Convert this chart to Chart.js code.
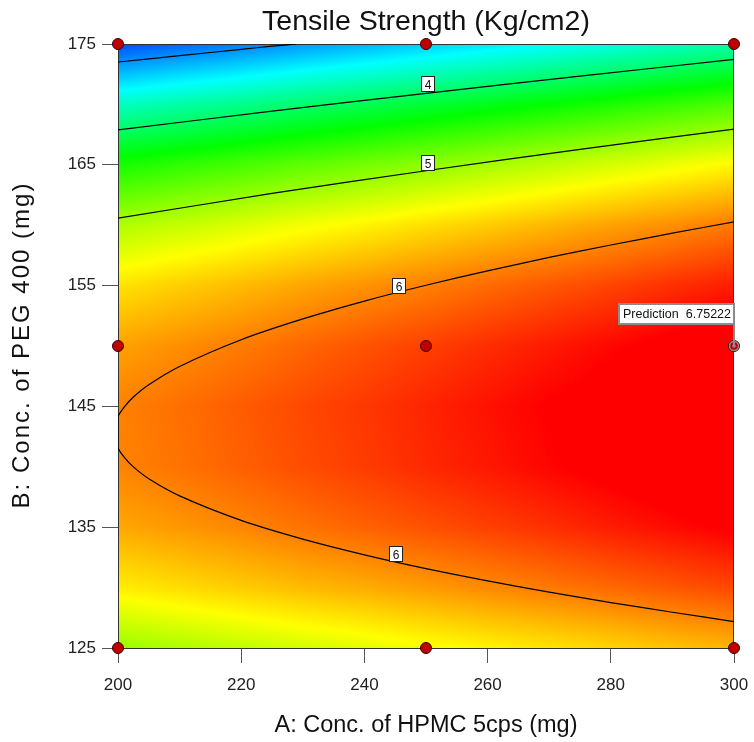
<!DOCTYPE html>
<html>
<head>
<meta charset="utf-8">
<script src="https://cdn.jsdelivr.net/npm/chart.js@4.4.1/dist/chart.umd.min.js"></script>
<style>
  html, body { margin: 0; padding: 0; background: #ffffff; }
  #wrap { width: 754px; height: 742px; }
</style>
</head>
<body>
<div id="wrap"><canvas id="chart" width="754" height="742"></canvas></div>
<script>
// ---------- data ----------
const chartTitle = 'Tensile Strength (Kg/cm2)';
const xTitle = 'A: Conc. of HPMC 5cps (mg)';
const yTitle = 'B: Conc. of PEG 400 (mg)';

const xTicks = [200, 220, 240, 260, 280, 300];
const yTicks = [125, 135, 145, 155, 165, 175];

// response surface grid: A (columns) x B (rows)
const gridA = [200, 210, 220, 230, 240, 250, 260, 270, 280, 290, 300];
const gridB = [125, 130, 135, 140, 145, 150, 155, 160, 165, 170, 175];
const gridZ = [
  [4.98, 5.06, 5.14, 5.22, 5.29, 5.37, 5.45, 5.52, 5.60, 5.68, 5.75],
  [5.48, 5.56, 5.64, 5.72, 5.79, 5.87, 5.95, 6.03, 6.11, 6.19, 6.27],
  [5.81, 5.89, 5.97, 6.06, 6.14, 6.22, 6.30, 6.38, 6.47, 6.55, 6.63],
  [5.98, 6.06, 6.15, 6.24, 6.32, 6.41, 6.49, 6.58, 6.66, 6.75, 6.83],
  [5.99, 6.08, 6.17, 6.26, 6.34, 6.43, 6.52, 6.61, 6.69, 6.78, 6.87],
  [5.84, 5.93, 6.02, 6.12, 6.21, 6.30, 6.39, 6.48, 6.57, 6.66, 6.75],
  [5.53, 5.63, 5.72, 5.82, 5.91, 6.00, 6.10, 6.19, 6.28, 6.38, 6.47],
  [5.07, 5.16, 5.26, 5.36, 5.45, 5.55, 5.64, 5.74, 5.84, 5.93, 6.03],
  [4.44, 4.54, 4.64, 4.74, 4.83, 4.93, 5.03, 5.13, 5.23, 5.33, 5.43],
  [3.65, 3.75, 3.85, 3.96, 4.06, 4.16, 4.26, 4.36, 4.46, 4.57, 4.67],
  [2.70, 2.81, 2.91, 3.02, 3.12, 3.22, 3.33, 3.43, 3.54, 3.64, 3.75]
];

// colour scale: response value -> colour
const colorLevels = [2.4, 3.43, 4.35, 5.4, 6.6];
const colorRGB = [[0, 0, 255], [0, 255, 255], [0, 255, 0], [255, 255, 0], [255, 0, 0]];

// design points
const designA = [200, 250, 300, 200, 250, 300, 200, 250, 300];
const designB = [125, 125, 125, 150, 150, 150, 175, 175, 175];

// contour lines
const contour3A = [200, 210, 220, 225, 229];
const contour3B = [173.51, 174.03, 174.56, 174.82, 175.0];
const contour4A = [200, 225, 250, 275, 300];
const contour4B = [167.89, 169.44, 170.91, 172.34, 173.72];
const contour5A = [200, 225, 250, 275, 300];
const contour5B = [160.58, 162.63, 164.51, 166.28, 167.95];
const contour6A = [300, 290, 280, 270, 260, 250, 240, 230, 220, 210, 205, 202.5, 201, 200,
                   200, 201, 202.5, 205, 210, 220, 230, 240, 250, 260, 270, 280, 290, 300];
const contour6B = [160.28, 159.34, 158.36, 157.33, 156.22, 155.03, 153.72, 152.24, 150.52, 148.31, 146.80, 145.78, 144.94, 144.11,
                   141.61, 140.80, 139.99, 139.01, 137.59, 135.56, 134.01, 132.71, 131.57, 130.55, 129.62, 128.76, 127.96, 127.19];

// contour labels
const contourLabelText = ['4', '5', '6', '6'];
const contourLabelA = [250.2, 250.2, 245.5, 245.0];
const contourLabelB = [171.69, 165.23, 155.01, 132.86];

// prediction flag
const predictionA = 300;
const predictionB = 150;
const predictionLabel = 'Prediction';
const predictionValue = '6.75222';

// ---------- helpers ----------
const FONT = '"Liberation Sans", Arial, sans-serif';
const zip = (xs, ys) => xs.map((v, i) => ({ x: v, y: ys[i] }));

function locate(arr, v) {
  const n = arr.length;
  if (v <= arr[0]) return [0, 0];
  if (v >= arr[n - 1]) return [n - 2, 1];
  for (let i = 0; i < n - 1; i++) {
    if (v <= arr[i + 1]) return [i, (v - arr[i]) / (arr[i + 1] - arr[i])];
  }
  return [n - 2, 1];
}
function sampleZ(a, b) {
  const [i, t] = locate(gridA, a);
  const [j, u] = locate(gridB, b);
  const z00 = gridZ[j][i], z10 = gridZ[j][i + 1];
  const z01 = gridZ[j + 1][i], z11 = gridZ[j + 1][i + 1];
  return (z00 * (1 - t) + z10 * t) * (1 - u) + (z01 * (1 - t) + z11 * t) * u;
}
function colorFor(z) {
  const n = colorLevels.length;
  if (z <= colorLevels[0]) return colorRGB[0];
  if (z >= colorLevels[n - 1]) return colorRGB[n - 1];
  for (let k = 0; k < n - 1; k++) {
    if (z <= colorLevels[k + 1]) {
      const f = (z - colorLevels[k]) / (colorLevels[k + 1] - colorLevels[k]);
      const c0 = colorRGB[k], c1 = colorRGB[k + 1];
      return [c0[0] + (c1[0] - c0[0]) * f, c0[1] + (c1[1] - c0[1]) * f, c0[2] + (c1[2] - c0[2]) * f];
    }
  }
  return colorRGB[n - 1];
}

// ---------- plugins ----------
const heatmapPlugin = {
  id: 'heatmap',
  beforeDatasetsDraw(chart) {
    const { ctx, chartArea: ca, scales: { x, y } } = chart;
    const L = Math.round(ca.left), T = Math.round(ca.top);
    const W = Math.round(ca.right) - L, H = Math.round(ca.bottom) - T;
    const img = ctx.createImageData(W, H);
    const d = img.data;
    for (let j = 0; j < H; j++) {
      const bv = y.getValueForPixel(T + j + 0.5);
      for (let i = 0; i < W; i++) {
        const av = x.getValueForPixel(L + i + 0.5);
        const c = colorFor(sampleZ(av, bv));
        const k = (j * W + i) * 4;
        d[k] = c[0]; d[k + 1] = c[1]; d[k + 2] = c[2]; d[k + 3] = 255;
      }
    }
    ctx.putImageData(img, L, T);
    ctx.save();
    ctx.strokeStyle = '#333333';
    ctx.lineWidth = 1;
    ctx.strokeRect(L + 0.5, T + 0.5, W - 1, H);
    ctx.restore();
  }
};

const annotationPlugin = {
  id: 'annotations',
  afterDatasetsDraw(chart) {
    const { ctx, scales: { x, y } } = chart;
    ctx.save();
    // contour labels
    ctx.font = '12px ' + FONT;
    ctx.textAlign = 'center';
    ctx.textBaseline = 'middle';
    for (let i = 0; i < contourLabelText.length; i++) {
      const cx = x.getPixelForValue(contourLabelA[i]);
      const cy = y.getPixelForValue(contourLabelB[i]);
      const w = 13, h = 15;
      const rx = Math.round(cx - w / 2) + 0.5, ry = Math.round(cy - h / 2) + 0.5;
      ctx.fillStyle = '#ffffff';
      ctx.fillRect(rx, ry, w, h);
      ctx.strokeStyle = '#222222';
      ctx.lineWidth = 1;
      ctx.strokeRect(rx, ry, w, h);
      ctx.fillStyle = '#111111';
      ctx.fillText(contourLabelText[i], rx + w / 2, ry + h / 2 + 2);
    }
    // prediction flag
    const px = x.getPixelForValue(predictionA);
    const py = y.getPixelForValue(predictionB);
    const bw = 115, bh = 20, gap = 22;
    const bx = px - bw, by = py - gap - bh;
    ctx.strokeStyle = '#8c8c8c';
    ctx.lineWidth = 2;
    ctx.beginPath();
    ctx.moveTo(px, py);
    ctx.lineTo(px, by + bh);
    ctx.stroke();
    ctx.fillStyle = '#ffffff';
    ctx.fillRect(bx, by, bw, bh);
    ctx.strokeRect(bx, by, bw, bh);
    ctx.fillStyle = '#111111';
    ctx.font = '12.5px ' + FONT;
    ctx.textBaseline = 'middle';
    ctx.textAlign = 'left';
    ctx.fillText(predictionLabel, bx + 4, by + bh / 2 + 1);
    ctx.textAlign = 'right';
    ctx.fillText(predictionValue, px - 3, by + bh / 2 + 1);
    // marker on the predicted point
    ctx.beginPath();
    ctx.arc(px, py, 4.5, 0, Math.PI * 2);
    ctx.strokeStyle = '#8c8c8c';
    ctx.lineWidth = 1.5;
    ctx.stroke();
    ctx.beginPath();
    ctx.arc(px, py, 1.8, 0, Math.PI * 2);
    ctx.fillStyle = '#8c8c8c';
    ctx.fill();
    ctx.restore();
  },
  afterDraw(chart) {
    // y axis title (letter-spaced like the reference)
    const { ctx, chartArea: ca } = chart;
    ctx.save();
    ctx.translate(22, (ca.top + ca.bottom) / 2);
    ctx.rotate(-Math.PI / 2);
    ctx.font = '24px ' + FONT;
    if ('letterSpacing' in ctx) ctx.letterSpacing = '2px';
    ctx.fillStyle = '#111111';
    ctx.textAlign = 'center';
    ctx.textBaseline = 'middle';
    ctx.fillText(yTitle, 1, 0);
    ctx.restore();
  }
};

// ---------- chart ----------
const lineStyle = {
  type: 'line',
  showLine: true,
  borderColor: '#000000',
  borderWidth: 1.2,
  pointRadius: 0,
  pointHoverRadius: 0,
  fill: false,
  tension: 0.25
};

new Chart(document.getElementById('chart'), {
  type: 'scatter',
  data: {
    datasets: [
      {
        label: 'Design points',
        data: zip(designA, designB),
        pointRadius: 5.5,
        pointHoverRadius: 5.5,
        pointBackgroundColor: '#c00000',
        pointBorderColor: '#3a0000',
        pointBorderWidth: 1,
        clip: false
      },
      Object.assign({ label: '3', data: zip(contour3A, contour3B) }, lineStyle),
      Object.assign({ label: '4', data: zip(contour4A, contour4B) }, lineStyle),
      Object.assign({ label: '5', data: zip(contour5A, contour5B) }, lineStyle),
      Object.assign({ label: '6', data: zip(contour6A, contour6B) }, lineStyle)
    ]
  },
  options: {
    responsive: false,
    animation: false,
    devicePixelRatio: 1,
    layout: { padding: { left: 0, right: 20, top: 0, bottom: 0 } },
    plugins: {
      legend: { display: false },
      tooltip: { enabled: false },
      title: {
        display: true,
        text: chartTitle,
        fullSize: false,
        color: '#111111',
        font: { family: FONT, size: 28.5, weight: 'normal' },
        padding: { top: 4.8, bottom: 5 }
      }
    },
    scales: {
      x: {
        type: 'linear',
        min: 200,
        max: 300,
        afterBuildTicks: (s) => { s.ticks = xTicks.map(v => ({ value: v })); },
        afterFit: (s) => { s.height = 94; s.paddingLeft = 0; s.paddingRight = 0; },
        grid: { drawOnChartArea: false, drawTicks: true, tickLength: 15, color: '#555555', lineWidth: 1 },
        border: { display: false },
        ticks: { color: '#222222', font: { family: FONT, size: 17 }, padding: 12, maxRotation: 0 },
        title: {
          display: true,
          text: xTitle,
          color: '#111111',
          font: { family: FONT, size: 23.5 },
          padding: { top: 0, bottom: 2 }
        }
      },
      y: {
        type: 'linear',
        min: 125,
        max: 175,
        afterBuildTicks: (s) => { s.ticks = yTicks.map(v => ({ value: v })); },
        afterFit: (s) => { s.width = 118; s.paddingTop = 0; s.paddingBottom = 0; },
        grid: { drawOnChartArea: false, drawTicks: true, tickLength: 16, color: '#555555', lineWidth: 1 },
        border: { display: false },
        ticks: { color: '#222222', font: { family: FONT, size: 17 }, padding: 6 },
        title: { display: false, text: yTitle }
      }
    }
  },
  plugins: [heatmapPlugin, annotationPlugin]
});
</script>
</body>
</html>
